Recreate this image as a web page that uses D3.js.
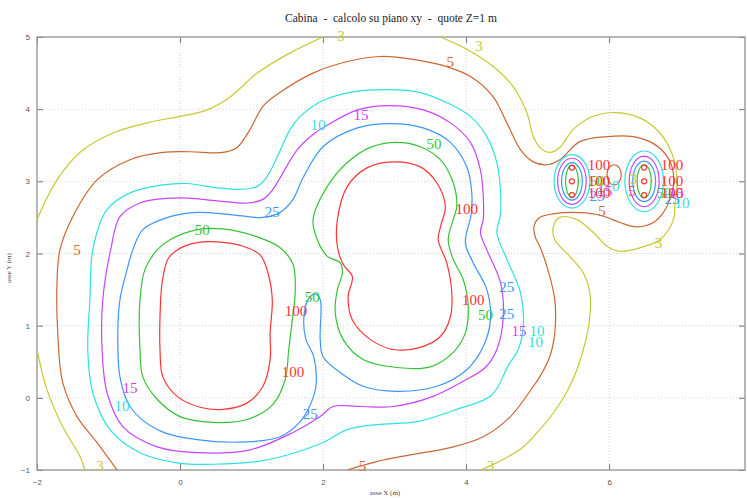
<!DOCTYPE html>
<html>
<head>
<meta charset="utf-8">
<script src="https://cdn.jsdelivr.net/npm/d3@7"></script>
<style>
  body { margin: 0; background: #fff; }
  svg { display: block; font-family: "Liberation Serif", "DejaVu Serif", serif; }
</style>
</head>
<body>
<svg id="chart" width="747" height="498"></svg>
<script>
// contour levels and tick values
const levels = [3, 5, 10, 15, 25, 50, 100];
const xTicks = [-2, 0, 2, 4, 6];
const yTicks = [-1, 0, 1, 2, 3, 4, 5];

// iso-lines, in metres [x, y]
const iso3TopLeft = [[-2.00,2.47],[-1.72,3.02],[-1.40,3.40],[-0.94,3.67],[-0.46,3.81],[0,3.90],[0.38,3.99],[0.70,4.17],[1.08,4.50],[1.54,4.78],[2.00,5.00]];
const iso3Right = [[3.64,5.00],[4.01,4.83],[4.38,4.59],[4.66,4.31],[4.85,3.95],[4.94,3.62],[5.03,3.47],[5.17,3.40],[5.31,3.47],[5.50,3.72],[5.73,3.88],[6.01,3.95],[6.43,3.88],[6.71,3.67],[6.88,3.38],[6.95,3.02],[6.92,2.68],[6.90,2.47],[6.71,2.19],[6.43,2.08],[6.15,2.03],[5.97,2.10],[5.78,2.29],[5.55,2.47],[5.31,2.50],[5.22,2.37],[5.24,2.19],[5.45,1.96],[5.64,1.73],[5.73,1.46],[5.73,1.12],[5.64,0.67],[5.45,0.16],[5.22,-0.21],[5.03,-0.44],[4.80,-0.68],[4.43,-0.90],[4.20,-1.00]];
const iso3BottomLeft = [[-2.00,0.67],[-1.86,0.11],[-1.64,-0.40],[-1.40,-0.81],[-1.33,-1.00]];
const iso5Main = [[-0.88,-1.00],[-1.16,-0.62],[-1.44,-0.26],[-1.64,0.21],[-1.71,0.90],[-1.72,1.60],[-1.68,2.05],[-1.50,2.51],[-1.16,3.02],[-0.70,3.30],[-0.24,3.40],[0.14,3.41],[0.60,3.40],[0.80,3.47],[0.98,3.72],[1.16,4.04],[1.41,4.24],[1.86,4.50],[2.34,4.66],[2.80,4.73],[3.26,4.69],[3.73,4.59],[4.10,4.43],[4.38,4.17],[4.57,3.81],[4.76,3.44],[4.94,3.27],[5.13,3.23],[5.31,3.30],[5.59,3.55],[5.97,3.62],[6.34,3.62],[6.57,3.55],[6.76,3.41],[6.88,3.20],[6.90,2.95],[6.85,2.75],[6.76,2.57],[6.62,2.43],[6.39,2.37],[6.15,2.43],[5.97,2.50],[5.83,2.54],[5.50,2.57],[5.22,2.55],[5.03,2.50],[4.95,2.38],[4.97,2.22],[5.03,2.10],[5.13,1.82],[5.24,1.36],[5.24,0.90],[5.17,0.57],[5.03,0.29],[4.94,0.16],[4.62,-0.26],[4.24,-0.54],[3.78,-0.69],[3.22,-0.79],[2.76,-0.88],[2.34,-1.00]];
const iso10Main = [[-1.22,2.05],[-1.02,2.61],[-0.70,2.84],[-0.24,2.95],[0.10,2.97],[0.52,2.91],[0.88,2.89],[1.08,2.93],[1.22,3.07],[1.36,3.34],[1.54,3.72],[1.68,3.90],[2.00,4.12],[2.42,4.24],[2.90,4.27],[3.36,4.23],[3.73,4.09],[4.06,3.90],[4.29,3.62],[4.43,3.26],[4.48,2.89],[4.48,2.54],[4.43,2.29],[4.57,1.92],[4.76,1.46],[4.80,0.99],[4.73,0.67],[4.59,0.45],[4.36,0.04],[3.87,-0.16],[3.31,-0.33],[2.76,-0.37],[2.34,-0.44],[2.00,-0.62],[1.64,-0.75],[1.16,-0.87],[0.46,-0.92],[-0.04,-0.90],[-0.56,-0.76],[-0.98,-0.44],[-1.22,0.07],[-1.29,0.67],[-1.26,1.36]];
const iso15Main = [[-0.97,2.05],[-0.84,2.51],[-0.56,2.70],[0,2.77],[0.52,2.73],[0.94,2.70],[1.16,2.75],[1.30,2.89],[1.40,3.05],[1.64,3.44],[1.86,3.65],[2.03,3.76],[2.48,3.99],[2.94,4.05],[3.40,3.99],[3.78,3.81],[4.06,3.54],[4.20,3.16],[4.24,2.79],[4.24,2.47],[4.20,2.29],[4.29,2.05],[4.48,1.60],[4.52,1.12],[4.43,0.67],[4.27,0.42],[3.96,0.23],[3.54,0.02],[2.98,-0.12],[2.52,-0.12],[2.14,-0.12],[1.96,-0.26],[1.58,-0.48],[0.98,-0.72],[0.24,-0.76],[-0.32,-0.68],[-0.80,-0.40],[-1.02,0.07],[-1.09,0.67],[-1.08,1.36]];
const iso25Main = [[-0.66,2.05],[-0.52,2.33],[-0.14,2.51],[0.24,2.57],[0.70,2.54],[1.16,2.50],[1.40,2.57],[1.58,2.75],[1.72,3.05],[2.00,3.48],[2.48,3.74],[2.94,3.80],[3.40,3.74],[3.78,3.54],[4.01,3.20],[4.08,2.84],[4.07,2.54],[3.99,2.15],[4.10,1.87],[4.29,1.50],[4.34,1.08],[4.24,0.71],[4.01,0.39],[3.59,0.16],[3.03,0.09],[2.56,0.16],[2.24,0.35],[2.00,0.57],[1.96,0.81],[1.96,1.36],[1.89,1.44],[1.79,1.36],[1.73,1.08],[1.76,0.81],[1.87,0.57],[1.90,0.16],[1.82,-0.10],[1.68,-0.33],[1.40,-0.54],[0.94,-0.61],[0.24,-0.58],[-0.32,-0.44],[-0.70,-0.12],[-0.84,0.29],[-0.87,0.90],[-0.84,1.36],[-0.74,1.78]];
const iso50Left = [[-0.32,2.05],[-0.14,2.19],[0.24,2.33],[0.60,2.34],[1.08,2.23],[1.40,2.08],[1.58,1.85],[1.61,1.46],[1.57,1.08],[1.52,0.67],[1.47,0.25],[1.30,-0.09],[0.94,-0.30],[0.46,-0.34],[0,-0.26],[-0.32,-0.02],[-0.52,0.29],[-0.56,0.67],[-0.56,1.36],[-0.49,1.78]];
const iso50Mid = [[1.86,2.47],[2.06,2.93],[2.34,3.26],[2.66,3.47],[3.03,3.54],[3.36,3.48],[3.64,3.30],[3.82,2.98],[3.87,2.65],[3.82,2.47],[3.75,2.19],[3.82,1.92],[3.96,1.64],[4.03,1.26],[3.99,0.90],[3.82,0.63],[3.50,0.43],[3.03,0.42],[2.56,0.53],[2.28,0.81],[2.17,1.18],[2.20,1.50],[2.27,1.73],[2.24,1.87],[2.06,1.96],[1.92,2.19]];
const iso100Left = [[-0.04,2.05],[0.24,2.15],[0.52,2.16],[0.88,2.10],[1.12,1.98],[1.23,1.73],[1.29,1.36],[1.26,0.90],[1.26,0.53],[1.16,0.16],[0.94,-0.07],[0.60,-0.16],[0.28,-0.13],[-0.04,0.02],[-0.24,0.29],[-0.28,0.67],[-0.28,1.12],[-0.25,1.60],[-0.17,1.92]];
const iso100Mid = [[2.20,2.47],[2.34,2.93],[2.62,3.19],[2.98,3.27],[3.36,3.20],[3.59,2.98],[3.71,2.65],[3.65,2.40],[3.61,2.19],[3.73,1.87],[3.80,1.46],[3.78,1.12],[3.64,0.85],[3.36,0.70],[2.98,0.67],[2.66,0.81],[2.41,1.08],[2.35,1.40],[2.41,1.68],[2.28,1.85],[2.20,2.10]];

// small sources on the right: centres and ring half-widths [level, rx, ry]
const clusterX = [5.48, 6.49];
const clusterY = 3.0;
const ringsLeft = [[10,0.25,0.37],[15,0.20,0.32],[25,0.145,0.26],[50,0.09,0.22]];
const ringsRight = [[10,0.27,0.42],[15,0.21,0.35],[25,0.16,0.28],[50,0.10,0.23]];
const coreY = [3.19, 3.00, 2.81];
const gapLoop5 = [6.07, 3.09, 0.10, 0.14];

// contour labels [x, y]
const lab3 = [[2.25,5.02],[4.18,4.88],[-1.12,-0.94],[4.34,-0.95],[6.69,2.15],[6.34,3.03]];
const lab5 = [[3.78,4.66],[-1.44,2.05],[2.55,-0.94],[5.90,2.59],[6.32,2.86]];
const lab10 = [[1.93,3.78],[-0.81,-0.12],[4.99,0.92],[4.97,0.78],[6.04,2.93],[7.02,2.70]];
const lab15 = [[2.53,3.92],[-0.70,0.13],[4.74,0.92],[5.94,2.87],[6.94,2.84]];
const lab25 = [[1.29,2.57],[4.57,1.53],[4.57,1.16],[1.82,-0.23],[5.83,2.79],[6.88,2.76]];
const lab50 = [[3.55,3.52],[0.31,2.32],[1.85,1.40],[4.27,1.15],[5.83,3.01],[6.77,2.84]];
const lab100 = [[4.01,2.61],[1.62,1.21],[1.58,0.36],[4.10,1.35],[5.86,3.22],[5.86,3.01],[5.86,2.84],[6.88,3.22],[6.88,3.01],[6.88,2.84]];

const palette = ["#c8c832", "#cc6633", "#2ee0e0", "#c844ff", "#3c96ff", "#33c433", "#ff3333"];
const color = d3.scaleOrdinal().domain(levels).range(palette);

const svg = d3.select("#chart");
const margin = { top: 37, right: 2, bottom: 28, left: 37 };
const width = 747, height = 498;

const x = d3.scaleLinear().domain([-2, 7.9]).range([margin.left, width - margin.right]);
const y = d3.scaleLinear().domain([-1, 5]).range([height - margin.bottom, margin.top]);

svg.append("defs").append("clipPath").attr("id", "clip")
  .append("rect")
  .attr("x", x(-2)).attr("y", y(5))
  .attr("width", x(7.9) - x(-2)).attr("height", y(-1) - y(5));

// dotted grid
const grid = svg.append("g").attr("stroke", "#d4d4d4").attr("stroke-dasharray", "1,2");
grid.selectAll("line.gx").data(xTicks.slice(1)).join("line")
  .attr("x1", d => x(d)).attr("x2", d => x(d))
  .attr("y1", y(-1)).attr("y2", y(5));
grid.selectAll("line.gy").data(yTicks.slice(1, -1)).join("line")
  .attr("x1", x(-2)).attr("x2", x(7.9))
  .attr("y1", d => y(d)).attr("y2", d => y(d));

// axes with inward ticks
const fmt = d3.format("d");
const styleAxis = g => {
  g.select(".domain").remove();
  g.selectAll(".tick line").attr("stroke", "#777");
  g.selectAll(".tick text").attr("fill", "#555")
    .style("font-family", "'Liberation Sans', Arial, sans-serif").style("font-size", "8px");
};
svg.append("g").attr("transform", `translate(0,${y(-1)})`)
  .call(d3.axisBottom(x).tickValues(xTicks).tickFormat(fmt).tickSizeInner(-6).tickSizeOuter(0).tickPadding(9))
  .call(styleAxis);
svg.append("g").attr("transform", `translate(0,${y(5)})`)
  .call(d3.axisTop(x).tickValues(xTicks).tickSizeInner(-6).tickSizeOuter(0).tickFormat(""))
  .call(styleAxis);
svg.append("g").attr("transform", `translate(${x(-2)},0)`)
  .call(d3.axisLeft(y).tickValues(yTicks).tickFormat(fmt).tickSizeInner(-6).tickSizeOuter(0).tickPadding(7))
  .call(styleAxis);
svg.append("g").attr("transform", `translate(${x(7.9)},0)`)
  .call(d3.axisRight(y).tickValues(yTicks).tickSizeInner(-6).tickSizeOuter(0).tickFormat(""))
  .call(styleAxis);

svg.append("rect")
  .attr("x", x(-2)).attr("y", y(5))
  .attr("width", x(7.9) - x(-2)).attr("height", y(-1) - y(5))
  .attr("fill", "none").attr("stroke", "#999").attr("stroke-width", 1.4);

// contour lines
const contours = [
  { level: 3, closed: false, pts: iso3TopLeft },
  { level: 3, closed: false, pts: iso3Right },
  { level: 3, closed: false, pts: iso3BottomLeft },
  { level: 5, closed: false, pts: iso5Main },
  { level: 10, closed: true, pts: iso10Main },
  { level: 15, closed: true, pts: iso15Main },
  { level: 25, closed: true, pts: iso25Main },
  { level: 50, closed: true, pts: iso50Left },
  { level: 50, closed: true, pts: iso50Mid },
  { level: 100, closed: true, pts: iso100Left },
  { level: 100, closed: true, pts: iso100Mid }
];

const plot = svg.append("g").attr("clip-path", "url(#clip)")
  .attr("fill", "none").attr("stroke-width", 1.2);

plot.selectAll("path.iso").data(contours).join("path")
  .attr("class", "iso")
  .attr("stroke", d => color(d.level))
  .attr("d", d => d3.line()
    .x(p => x(p[0])).y(p => y(p[1]))
    .curve(d.closed ? d3.curveCatmullRomClosed.alpha(0.5) : d3.curveCatmullRom.alpha(0.5))(d.pts));

// rings round the two small sources
const rings = [];
clusterX.forEach((cx, i) => {
  (i === 0 ? ringsLeft : ringsRight).forEach(r => rings.push({ cx, level: r[0], rx: r[1], ry: r[2] }));
});
plot.selectAll("ellipse.ring").data(rings).join("ellipse")
  .attr("class", "ring")
  .attr("cx", d => x(d.cx)).attr("cy", y(clusterY))
  .attr("rx", d => x(d.cx + d.rx) - x(d.cx))
  .attr("ry", d => y(clusterY) - y(clusterY + d.ry))
  .attr("stroke", d => color(d.level));

plot.append("ellipse")
  .attr("cx", x(gapLoop5[0])).attr("cy", y(gapLoop5[1]))
  .attr("rx", x(gapLoop5[0] + gapLoop5[2]) - x(gapLoop5[0]))
  .attr("ry", y(gapLoop5[1]) - y(gapLoop5[1] + gapLoop5[3]))
  .attr("stroke", color(5));

const cores = clusterX.flatMap(cx => coreY.map(cy => [cx, cy]));
plot.selectAll("circle.core").data(cores).join("circle")
  .attr("class", "core")
  .attr("cx", d => x(d[0])).attr("cy", d => y(d[1]))
  .attr("r", x(0.035) - x(0))
  .attr("stroke", color(100));

// contour labels
const labels = [[3, lab3], [5, lab5], [10, lab10], [15, lab15], [25, lab25], [50, lab50], [100, lab100]]
  .flatMap(([lv, arr]) => arr.map(p => ({ level: lv, x: p[0], y: p[1] })));
svg.append("g").selectAll("text").data(labels).join("text")
  .attr("x", d => x(d.x)).attr("y", d => y(d.y))
  .attr("text-anchor", "middle").attr("dominant-baseline", "central")
  .attr("fill", d => color(d.level))
  .style("font-size", "15px")
  .text(d => d.level);

// titles
svg.append("text")
  .attr("x", (x(-2) + x(7.9)) / 2).attr("y", 22)
  .attr("text-anchor", "middle").attr("fill", "#222")
  .style("font-size", "11.5px").style("white-space", "pre")
  .text("Cabina  -  calcolo su piano xy  -  quote Z=1 m");
svg.append("text")
  .attr("x", 385).attr("y", 495)
  .attr("text-anchor", "middle").attr("fill", "#444")
  .style("font-size", "7px")
  .text("asse X (m)");
svg.append("text")
  .attr("transform", "translate(11,268) rotate(-90)")
  .attr("text-anchor", "middle").attr("fill", "#444")
  .style("font-size", "7px")
  .text("asse Y (m)");
</script>
</body>
</html>
